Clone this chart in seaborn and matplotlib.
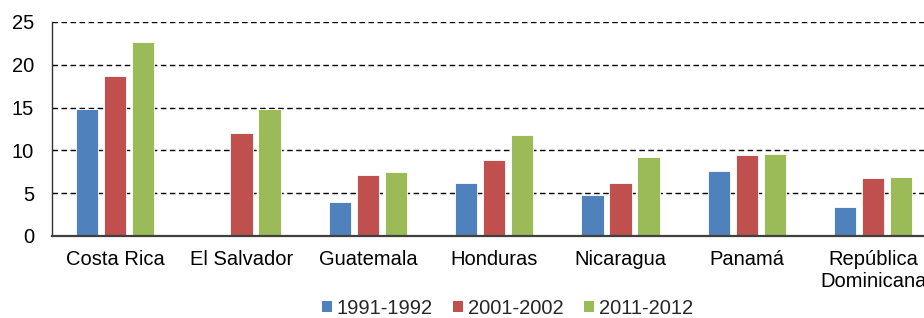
import numpy as np
import pandas as pd
import seaborn as sns
import matplotlib.pyplot as plt
from matplotlib.patches import Patch

# data
countries = ["Costa Rica", "El Salvador", "Guatemala", "Honduras",
             "Nicaragua", "Panamá", "República\nDominicana"]
periods = ["1991-1992", "2001-2002", "2011-2012"]
v_1991 = [14.8, np.nan, 4.0, 6.2, 4.8, 7.6, 3.4]
v_2001 = [18.7, 12.0, 7.1, 8.9, 6.2, 9.5, 6.8]
v_2011 = [22.7, 14.8, 7.5, 11.8, 9.2, 9.6, 6.9]
colors = ["#4F81BD", "#C0504D", "#9BBB59"]

# long format table for seaborn
rows = []
for p, vals in zip(periods, [v_1991, v_2001, v_2011]):
    for c, v in zip(countries, vals):
        rows.append({"pais": c, "periodo": p, "valor": v})
df = pd.DataFrame(rows)

sns.set_style("white")
plt.rcParams['font.family'] = ['Liberation Sans', 'DejaVu Sans']
fs = 14.5

fig = plt.figure(figsize=(9.24, 3.18), dpi=100)
ax = fig.add_axes([0.0563, 0.258, 0.957, 0.673])

sns.barplot(data=df, x="pais", y="valor", hue="periodo", order=countries,
            hue_order=periods, palette=colors, width=0.665, gap=0.2,
            edgecolor="white", linewidth=0.6, saturation=1, ax=ax)

ax.set_xlim(-0.5, 6.5)
ax.set_ylim(0, 25)
ax.set_yticks(range(0, 26, 5))
ax.yaxis.grid(True, linestyle=(0, (4, 2.5)), color="black", linewidth=1.0)
ax.set_axisbelow(True)
ax.set_xlabel("")
ax.set_ylabel("")

for s in ["top", "right"]:
    ax.spines[s].set_visible(False)
ax.spines["left"].set_color("#333333")
ax.spines["left"].set_linewidth(1.0)
ax.spines["bottom"].set_color("#404040")
ax.spines["bottom"].set_linewidth(1.6)

ax.tick_params(axis="x", length=0, pad=10, labelsize=fs, colors="black")
ax.tick_params(axis="y", length=0, pad=13, labelsize=fs, colors="black")

ax.get_legend().remove()
handles = [Patch(facecolor=c, edgecolor="none") for c in colors]
fig.legend(handles, periods, loc="center", bbox_to_anchor=(0.549, 0.031),
           ncol=3, frameon=False, fontsize=fs, handlelength=0.5,
           handleheight=0.5, handletextpad=0.25, columnspacing=1.0,
           borderaxespad=0, borderpad=0)

plt.savefig("out.png", dpi=100)
